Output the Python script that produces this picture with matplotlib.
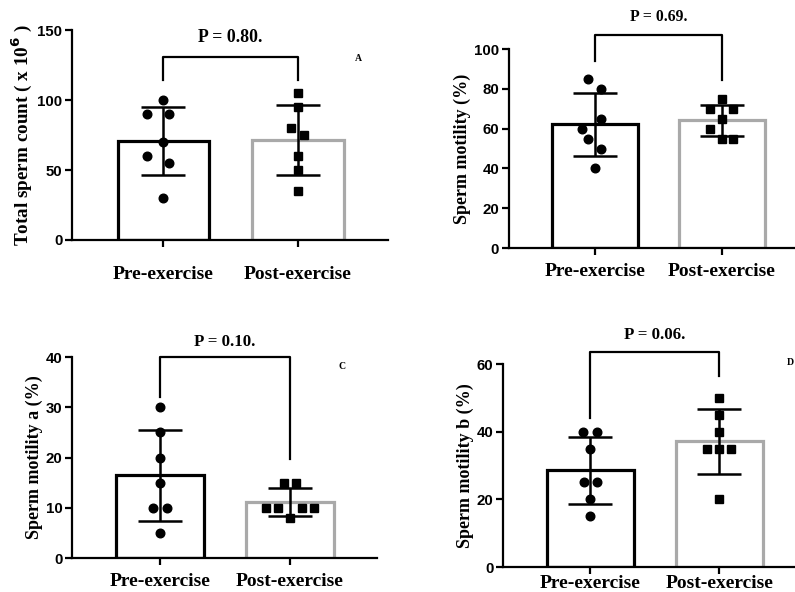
import matplotlib
matplotlib.use("Agg")
import matplotlib.pyplot as plt
import numpy as np

categories = ["Pre-exercise", "Post-exercise"]

# Panel A: total sperm count (x10^6)
a_pre = [100, 90, 90, 70, 60, 55, 30]
a_post = [105, 95, 80, 75, 60, 50, 35]
# Panel B: sperm motility (%)
b_pre = [85, 80, 65, 60, 55, 50, 40]
b_post = [75, 70, 70, 65, 60, 55, 55]
# Panel C: sperm motility a (%)
c_pre = [30, 25, 20, 15, 10, 10, 5]
c_post = [15, 15, 10, 10, 10, 10, 8]
# Panel D: sperm motility b (%)
d_pre = [40, 40, 35, 25, 25, 20, 15]
d_post = [50, 45, 40, 35, 35, 35, 20]

p_values = ["P = 0.80.", "P = 0.69.", "P = 0.10.", "P = 0.06."]
y_labels = ["Total sperm count ( x 10$^{\\mathbf{6}}$ )", "Sperm motility (%)",
            "Sperm motility a (%)", "Sperm motility b (%)"]
panel_letters = ["A", "", "C", "D"]

# horizontal jitter of points (layout only)
jit_a = ([0, -0.12, 0.045, 0, -0.12, 0.045, 0], [0, 0, -0.05, 0.045, 0, 0, 0])
jit_b = ([-0.05, 0.05, 0.05, -0.1, -0.05, 0.05, 0], [0, -0.09, 0.09, 0, -0.09, 0, 0.09])
jit_c = ([0, 0, 0, 0, -0.054, 0.054, 0], [-0.046, 0.046, -0.185, -0.092, 0.092, 0.185, 0])
jit_d = ([-0.054, 0.05, 0, -0.05, 0.05, 0, 0], [0, 0, 0, -0.095, 0, 0.095, 0])

SERIF = "Liberation Serif"
SANS = "Liberation Sans"

fig = plt.figure(figsize=(7.95, 5.92), dpi=100)

panels = [
    dict(pos=[0.0906, 0.5946, 0.3975, 0.3547], pre=a_pre, post=a_post, jit=jit_a,
         ylim=150, yticks=[0, 50, 100, 150], xr=1.667, bracket=(130.7, 114, 114),
         ptext_y=145, pfs=12.8, ylfs=13.8, xpad=14, letter_xy=(1.45, 130)),
    dict(pos=[0.640, 0.581, 0.360, 0.336], pre=b_pre, post=b_post, jit=jit_b,
         ylim=100, yticks=[0, 20, 40, 60, 80, 100], xr=1.575, bracket=(107, 94, 84.5),
         ptext_y=116, pfs=11.3, ylfs=13, xpad=6, letter_xy=None),
    dict(pos=[0.0906, 0.0574, 0.3836, 0.3395], pre=c_pre, post=c_post, jit=jit_c,
         ylim=40, yticks=[0, 10, 20, 30, 40], xr=1.669, bracket=(40, 32, 19.7),
         ptext_y=43, pfs=12.2, ylfs=13, xpad=6, letter_xy=(1.4, 38.2)),
    dict(pos=[0.633, 0.0422, 0.367, 0.3429], pre=d_pre, post=d_post, jit=jit_d,
         ylim=60, yticks=[0, 20, 40, 60], xr=1.589, bracket=(63.5, 44, 56.5),
         ptext_y=68.5, pfs=12.2, ylfs=13, xpad=1, letter_xy=(1.55, 60.5)),
]

for i, p in enumerate(panels):
    ax = fig.add_axes(p["pos"])
    x = np.arange(2)
    groups = [np.array(p["pre"], float), np.array(p["post"], float)]
    means = [g.mean() for g in groups]
    sds = [g.std(ddof=1) for g in groups]
    edge_cols = ["black", "#a9a9a9"]
    for k in range(2):
        ax.bar(x[k], means[k], width=0.675, facecolor="white", edgecolor=edge_cols[k],
               linewidth=2.3, zorder=2)
        marker = "o" if k == 0 else "s"
        ax.plot(x[k] + np.array(p["jit"][k]), groups[k], linestyle="none", marker=marker,
                markersize=6.2 if k == 0 else 5.6, color="black", zorder=4, clip_on=False)
        ax.errorbar(x[k], means[k], yerr=sds[k], color="black", capsize=16,
                    elinewidth=1.8, capthick=1.8, zorder=3)
    top, l0, l1 = p["bracket"]
    ax.plot([0, 0, 1, 1], [l0, top, top, l1], color="black", linewidth=1.6,
            clip_on=False, zorder=5)
    ax.text(0.5, p["ptext_y"], p_values[i], ha="center", va="center",
            fontfamily=SERIF, fontweight="bold", fontsize=p["pfs"], clip_on=False)
    if p["letter_xy"] is not None and panel_letters[i]:
        ax.text(p["letter_xy"][0], p["letter_xy"][1], panel_letters[i], ha="center",
                va="center", fontfamily=SERIF, fontweight="bold", fontsize=7, clip_on=False)

    ax.set_xlim(-0.675, p["xr"])
    ax.set_ylim(0, p["ylim"])
    ax.set_yticks(p["yticks"])
    ax.set_xticks(x)
    ax.set_xticklabels(categories, fontfamily=SERIF, fontweight="bold", fontsize=14)
    for lab in ax.get_yticklabels():
        lab.set_fontfamily(SANS)
        lab.set_fontweight("bold")
        lab.set_fontsize(10.8)
    ax.set_ylabel(y_labels[i], fontfamily=SERIF, fontweight="bold", fontsize=p["ylfs"],
                  labelpad=2)
    ax.spines["top"].set_visible(False)
    ax.spines["right"].set_visible(False)
    for s in ["left", "bottom"]:
        ax.spines[s].set_linewidth(1.6)
    ax.tick_params(axis="both", direction="out", length=5, width=1.6)
    ax.tick_params(axis="x", pad=p["xpad"])
    ax.tick_params(axis="y", pad=2)

fig.savefig("out.png", dpi=100)
